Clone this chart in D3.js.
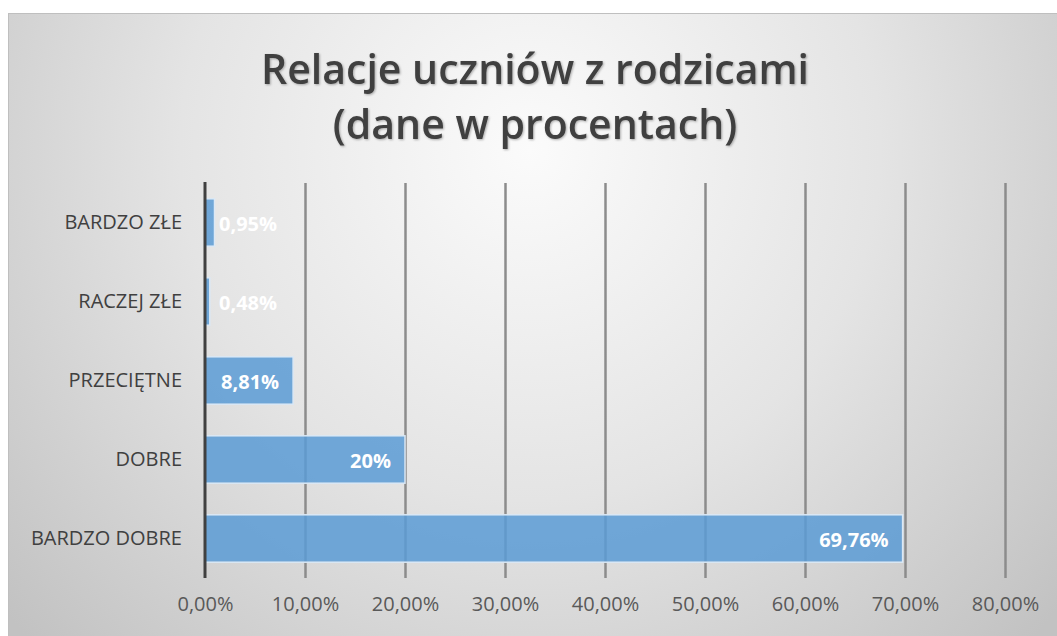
<!DOCTYPE html>
<html><head><meta charset="utf-8">
<script src="https://cdn.jsdelivr.net/npm/d3@7"></script>
<style>html,body{margin:0;padding:0;background:#fff;}svg{display:block;}</style>
</head><body>
<script>
const categories = ["BARDZO ZŁE", "RACZEJ ZŁE", "PRZECIĘTNE", "DOBRE", "BARDZO DOBRE"];
const values = [0.95, 0.48, 8.81, 20, 69.76];
const valueLabels = ["0,95%", "0,48%", "8,81%", "20%", "69,76%"];
const tickValues = [0, 10, 20, 30, 40, 50, 60, 70, 80];
const tickLabels = ["0,00%", "10,00%", "20,00%", "30,00%", "40,00%", "50,00%", "60,00%", "70,00%", "80,00%"];
const titleLines = ["Relacje uczniów z rodzicami", "(dane w procentach)"];

const W = 1057, H = 636;
const svg = d3.select("body").append("svg").attr("width", W).attr("height", H);
const defs = svg.append("defs");
const grad = defs.append("radialGradient").attr("id", "bg")
  .attr("gradientUnits", "userSpaceOnUse")
  .attr("cx", 530).attr("cy", 150).attr("r", 700);
grad.append("stop").attr("offset", "0").attr("stop-color", "#fbfbfb");
grad.append("stop").attr("offset", "0.5").attr("stop-color", "#e4e4e4");
grad.append("stop").attr("offset", "1").attr("stop-color", "#c2c2c2");
const sh = defs.append("filter").attr("id", "shadow").attr("x", "-5%").attr("y", "-20%").attr("width", "110%").attr("height", "140%");
sh.append("feDropShadow").attr("dx", 1).attr("dy", 1).attr("stdDeviation", 1).attr("flood-color", "#000").attr("flood-opacity", 0.3);

svg.append("rect").attr("x", 8).attr("y", 13).attr("width", W - 8).attr("height", H - 13)
  .attr("fill", "url(#bg)");
svg.append("line").attr("x1", 8).attr("x2", W).attr("y1", 13.5).attr("y2", 13.5).attr("stroke", "#bfbfbf").attr("stroke-width", 1);
svg.append("line").attr("x1", 8.5).attr("x2", 8.5).attr("y1", 13).attr("y2", H).attr("stroke", "#bfbfbf").attr("stroke-width", 1);

// Title
const title = svg.append("text").attr("text-anchor", "middle")
  .attr("font-family", "Open Sans, sans-serif").attr("font-weight", 600)
  .attr("font-size", 41).attr("fill", "#404040").attr("filter", "url(#shadow)");
titleLines.forEach((t, i) => {
  title.append("tspan").attr("x", 535).attr("y", 84 + i * 55).text(t);
});

const x = d3.scaleLinear().domain([0, 80]).range([205, 1005]);
const y = d3.scaleBand().domain(categories).range([183, 578]).paddingInner(0.4).paddingOuter(0.2);

// Gridlines
const grid = svg.append("g")
  .call(d3.axisBottom(x).tickValues(tickValues.filter(v => v > 0)).tickSize(-(578 - 183)).tickFormat(""))
  .attr("transform", "translate(0,578)");
grid.select(".domain").remove();
grid.selectAll(".tick line").attr("stroke", "#8c8c8c").attr("stroke-width", 2.5);

// Bars
svg.append("g").selectAll("rect").data(categories).join("rect")
  .attr("x", x(0))
  .attr("y", d => y(d))
  .attr("width", (d, i) => x(values[i]) - x(0))
  .attr("height", y.bandwidth())
  .attr("fill", "#5b9bd5").attr("fill-opacity", 0.85)
  .attr("stroke", "#dbe8f5").attr("stroke-width", 1.5);

// Value labels
svg.append("g").selectAll("text").data(categories).join("text")
  .attr("font-family", "Open Sans, sans-serif").attr("font-weight", 700)
  .attr("font-size", 20).attr("fill", "#ffffff")
  .attr("dominant-baseline", "central")
  .attr("y", d => y(d) + y.bandwidth() / 2 + 1)
  .each(function (d, i) {
    const w = x(values[i]) - x(0);
    const sel = d3.select(this).text(valueLabels[i]);
    const tw = this.getComputedTextLength();
    if (w < tw + 20) {
      sel.attr("x", x(0) + 14).attr("text-anchor", "start");
    } else {
      sel.attr("x", x(values[i]) - 14).attr("text-anchor", "end");
    }
  });

// Y axis line
svg.append("line").attr("x1", x(0)).attr("x2", x(0)).attr("y1", 182).attr("y2", 578)
  .attr("stroke", "#404040").attr("stroke-width", 3);

// Category labels
const yAxis = svg.append("g").attr("transform", `translate(${x(0)},0)`)
  .call(d3.axisLeft(y).tickSize(0).tickPadding(23));
yAxis.select(".domain").remove();
yAxis.selectAll("text").attr("font-family", "Open Sans, sans-serif").attr("font-size", 20)
  .attr("fill", "#404040");

// X tick labels
const xAxis = svg.append("g").attr("transform", "translate(0,578)")
  .call(d3.axisBottom(x).tickValues(tickValues).tickSize(0).tickPadding(19)
    .tickFormat((d, i) => tickLabels[i]));
xAxis.select(".domain").remove();
xAxis.selectAll("text").attr("font-family", "Open Sans, sans-serif").attr("font-size", 20)
  .attr("fill", "#595959");
</script>
</body></html>
